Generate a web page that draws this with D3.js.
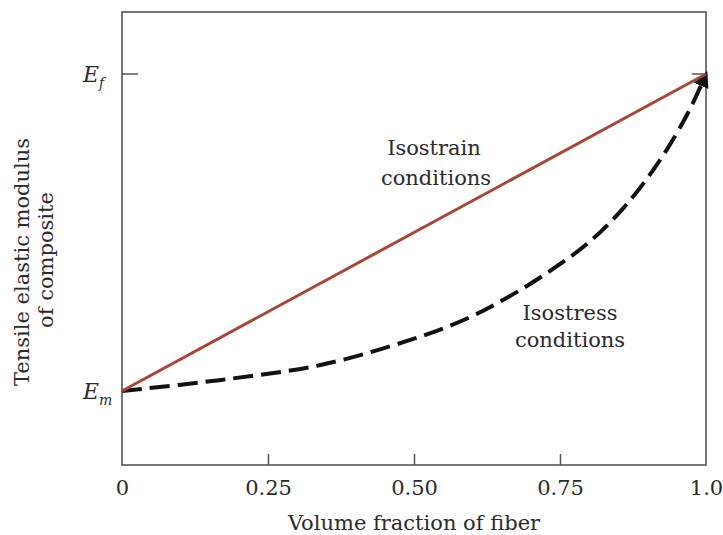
<!DOCTYPE html>
<html>
<head>
<meta charset="utf-8">
<script src="https://cdn.jsdelivr.net/npm/d3@7"></script>
<style>
  html, body { margin: 0; padding: 0; background: #fff; }
  svg { display: block; }
  text { font-family: "DejaVu Serif", "Liberation Serif", serif; fill: #2b2b2b; }
</style>
</head>
<body>
<svg id="chart" width="723" height="535"></svg>
<script>
// ---- data ----
const xTicks = [0, 0.25, 0.5, 0.75, 1.0];
const xTickLabels = ["0", "0.25", "0.50", "0.75", "1.0"];
const yTicks = [0, 1];             // Em, Ef (normalised modulus)
const yTickLabels = ["E_m", "E_f"];
// Isostrain (rule of mixtures) line
const isostrainVf = [0, 1];
const isostrainE  = [0, 1];
// Isostress curve
const isostressVf = [0, 0.17, 0.34, 0.5, 0.59, 0.66, 0.73, 0.8, 0.86, 0.92, 0.97, 1.0];
const isostressE  = [0, 0.035, 0.082, 0.165, 0.228, 0.295, 0.375, 0.47, 0.58, 0.725, 0.88, 1.0];

// ---- layout ----
const svg = d3.select("#chart");
const mLeft = 122, mRight = 706, mTop = 12, mBottom = 465;
const FS = 21;
const x = d3.scaleLinear().domain([0, 1]).range([mLeft, mRight]);
const y = d3.scaleLinear().domain([0, 1]).range([391, 74]);

// frame
svg.append("rect")
  .attr("x", mLeft).attr("y", mTop)
  .attr("width", mRight - mLeft).attr("height", mBottom - mTop)
  .attr("fill", "none").attr("stroke", "#555").attr("stroke-width", 1.6);

// x axis ticks (inward)
const xAxis = d3.axisBottom(x).tickValues(xTicks)
  .tickSize(-11).tickPadding(15)
  .tickFormat((d, i) => xTickLabels[i]);
const gx = svg.append("g").attr("transform", `translate(0,${mBottom})`).call(xAxis);
gx.select(".domain").remove();
gx.selectAll(".tick line").attr("stroke", "#555").attr("stroke-width", 1.5)
  .filter((d, i) => i === 0 || i === xTicks.length - 1).remove();
gx.selectAll(".tick text").attr("font-size", FS).attr("fill", "#2b2b2b")
  .style("font-family", '"DejaVu Serif", serif');

// y axis: tick at Ef (inward) on left and right
svg.append("line").attr("x1", mLeft).attr("x2", mLeft + 16)
  .attr("y1", y(1)).attr("y2", y(1)).attr("stroke", "#555").attr("stroke-width", 1.5);
svg.append("line").attr("x1", mRight - 14).attr("x2", mRight)
  .attr("y1", y(1)).attr("y2", y(1)).attr("stroke", "#555").attr("stroke-width", 1.5);

// y tick labels E_f, E_m (italic with subscript)
yTicks.forEach((v, i) => {
  const sub = yTickLabels[i].split("_")[1];
  const t = svg.append("text")
    .attr("x", 83).attr("y", y(v) + 8)
    .attr("text-anchor", "start")
    .attr("font-size", 22).attr("font-style", "italic");
  t.append("tspan").text("E");
  t.append("tspan").attr("dy", 6).attr("font-size", 14).text(sub);
});

// axis titles
svg.append("text").attr("x", 414).attr("y", 530)
  .attr("text-anchor", "middle").attr("font-size", FS)
  .text("Volume fraction of fiber");
svg.append("text").attr("transform", "translate(29,262) rotate(-90)")
  .attr("text-anchor", "middle").attr("font-size", FS)
  .text("Tensile elastic modulus");
svg.append("text").attr("transform", "translate(53,260) rotate(-90)")
  .attr("text-anchor", "middle").attr("font-size", FS)
  .text("of composite");

// arrow marker
svg.append("defs").append("marker")
  .attr("id", "arrow").attr("viewBox", "0 0 10 10")
  .attr("refX", 8).attr("refY", 5)
  .attr("markerWidth", 4).attr("markerHeight", 4)
  .attr("markerUnits", "strokeWidth")
  .attr("orient", "auto")
  .append("path").attr("d", "M0,0 L10,5 L0,10 Z").attr("fill", "#111");

// isostress dashed curve
const stressPts = isostressVf.map((v, i) => [v, isostressE[i]]);
svg.append("path")
  .attr("d", d3.line().x(d => x(d[0])).y(d => y(d[1])).curve(d3.curveCatmullRom.alpha(0.5))(stressPts))
  .attr("fill", "none").attr("stroke", "#111").attr("stroke-width", 4)
  .attr("stroke-dasharray", "20,8")
  .attr("marker-end", "url(#arrow)");

// isostrain line
const strainPts = isostrainVf.map((v, i) => [v, isostrainE[i]]);
svg.append("path")
  .attr("d", d3.line().x(d => x(d[0])).y(d => y(d[1]))(strainPts))
  .attr("fill", "none").attr("stroke", "#a8473a").attr("stroke-width", 3);

// annotations
svg.append("text").attr("x", 434).attr("y", 155).attr("text-anchor", "middle")
  .attr("font-size", FS).text("Isostrain");
svg.append("text").attr("x", 436).attr("y", 185).attr("text-anchor", "middle")
  .attr("font-size", FS).text("conditions");
svg.append("text").attr("x", 570).attr("y", 320).attr("text-anchor", "middle")
  .attr("font-size", FS).text("Isostress");
svg.append("text").attr("x", 570).attr("y", 347).attr("text-anchor", "middle")
  .attr("font-size", FS).text("conditions");
</script>
</body>
</html>
